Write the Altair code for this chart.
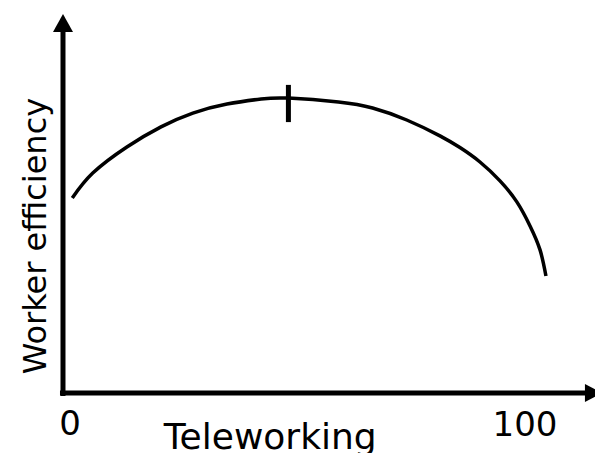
import altair as alt
import pandas as pd

# Curve: teleworking share vs. worker efficiency
tele = [0.5, 5, 12.5, 20, 27, 34.5, 42, 48, 59, 66.5, 74, 81.3, 85.7, 90.1, 94.5, 98.2, 101.1, 103.3, 104.6]
eff = [65, 73.3, 82, 88.7, 93.3, 96.3, 98, 98.3, 97, 95, 91, 85.7, 81.8, 77, 70.7, 63.7, 55.7, 47.7, 39]

# Optimum marker
opt_x = [48]
opt_lo = [90.3]
opt_hi = [102.7]

# Axis tick labels
tick_vals = [0, 100]
tick_labels = ["0", "100"]

x_title = "Teleworking"
y_title = "Worker efficiency"

# Decorative axis arrows (data units)
yaxis_x = [-1.54]
yaxis_lo = [-1]
yaxis_hi = [120.3]
xaxis_y = [0]
xaxis_lo = [-2.2]
xaxis_hi = [113.2]

FONT = "DejaVu Sans"
xs = alt.Scale(domain=[-13.626, 115.38], nice=False, zero=False)
ys = alt.Scale(domain=[-20, 128.33], nice=False, zero=False)

curve_df = pd.DataFrame({"x": tele, "y": eff})
curve = alt.Chart(curve_df).mark_line(color="black", strokeWidth=3.5, interpolate="natural").encode(
    x=alt.X("x:Q", scale=xs, axis=None),
    y=alt.Y("y:Q", scale=ys, axis=None),
)

opt_df = pd.DataFrame({"x": opt_x, "lo": opt_lo, "hi": opt_hi})
opt = alt.Chart(opt_df).mark_rule(color="black", strokeWidth=5).encode(
    x=alt.X("x:Q", scale=xs, axis=None),
    y=alt.Y("lo:Q", scale=ys, axis=None),
    y2="hi:Q",
)

yax_df = pd.DataFrame({"x": yaxis_x, "lo": yaxis_lo, "hi": yaxis_hi})
yax = alt.Chart(yax_df).mark_rule(color="black", strokeWidth=5).encode(
    x=alt.X("x:Q", scale=xs, axis=None),
    y=alt.Y("lo:Q", scale=ys, axis=None),
    y2="hi:Q",
)

xax_df = pd.DataFrame({"y": xaxis_y, "lo": xaxis_lo, "hi": xaxis_hi})
xax = alt.Chart(xax_df).mark_rule(color="black", strokeWidth=5).encode(
    y=alt.Y("y:Q", scale=ys, axis=None),
    x=alt.X("lo:Q", scale=xs, axis=None),
    x2="hi:Q",
)

yhead = alt.Chart(pd.DataFrame({"x": yaxis_x, "y": [123.3]})).mark_point(
    shape="M0,-0.9L1,0.9L-1,0.9Z", size=400, filled=True, color="black", opacity=1
).encode(x=alt.X("x:Q", scale=xs, axis=None), y=alt.Y("y:Q", scale=ys, axis=None))

xhead = alt.Chart(pd.DataFrame({"x": [115.05], "y": xaxis_y})).mark_point(
    shape="M0.95,0L-0.95,-1L-0.95,1Z", size=324, filled=True, color="black", opacity=1
).encode(x=alt.X("x:Q", scale=xs, axis=None), y=alt.Y("y:Q", scale=ys, axis=None))

tl_df = pd.DataFrame({"x": tick_vals, "label": tick_labels, "y": [-14, -14.5]})
tl = alt.Chart(tl_df).mark_text(font=FONT, fontSize=34, color="black", align="center", baseline="alphabetic").encode(
    x=alt.X("x:Q", scale=xs, axis=None),
    y=alt.Y("y:Q", scale=ys, axis=None),
    text="label:N",
)

xt = alt.Chart(pd.DataFrame({"x": [44], "y": [-18.8], "t": [x_title]})).mark_text(
    font=FONT, fontSize=36, color="black", align="center", baseline="alphabetic"
).encode(x=alt.X("x:Q", scale=xs, axis=None), y=alt.Y("y:Q", scale=ys, axis=None), text="t:N")

yt = alt.Chart(pd.DataFrame({"x": [-5.3], "y": [52.3], "t": [y_title]})).mark_text(
    font=FONT, fontSize=32, color="black", align="center", baseline="alphabetic", angle=270
).encode(x=alt.X("x:Q", scale=xs, axis=None), y=alt.Y("y:Q", scale=ys, axis=None), text="t:N")

chart = alt.layer(yax, xax, yhead, xhead, curve, opt, tl, xt, yt).properties(
    width=587, height=445, autosize=alt.AutoSizeParams(type="none"), padding=0
).configure_view(stroke=None, clip=False)

chart.save("out.html", embed_options={"renderer": "svg", "actions": False})
